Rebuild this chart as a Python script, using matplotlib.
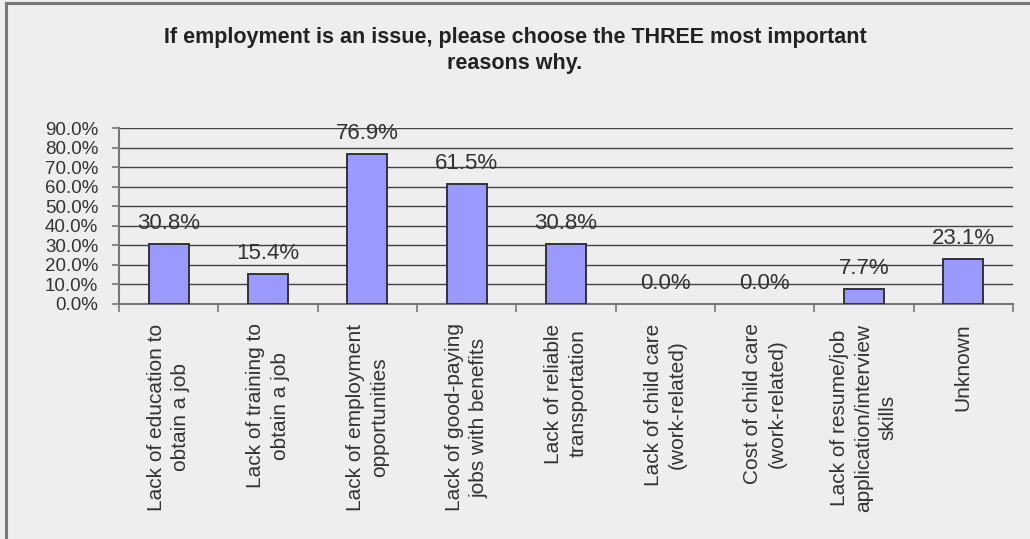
import matplotlib.pyplot as plt
from matplotlib.lines import Line2D

plt.rcParams['font.family'] = ['Liberation Sans', 'DejaVu Sans']

categories = [
    "Lack of education to\nobtain a job",
    "Lack of training to\nobtain a job",
    "Lack of employment\nopportunities",
    "Lack of good-paying\njobs with benefits",
    "Lack of reliable\ntransportation",
    "Lack of child care\n(work-related)",
    "Cost of child care\n(work-related)",
    "Lack of resume/job\napplication/interview\nskills",
    "Unknown",
]
percent = [30.8, 15.4, 76.9, 61.5, 30.8, 0.0, 0.0, 7.7, 23.1]
yticks = [0, 10, 20, 30, 40, 50, 60, 70, 80, 90]

bg = "#eeeeee"
fig = plt.figure(figsize=(10.30, 5.39), dpi=100, facecolor=bg)
ax = fig.add_axes([0.1155, 0.436, 0.868, 0.3265], facecolor=bg)

x = range(len(categories))
# no outline on empty bars, so nothing sits on the baseline
edges = [1.4 if v > 0 else 0 for v in percent]
ax.bar(x, percent, width=0.4, color="#9999ff", edgecolor="#333333", linewidth=edges, zorder=3)

for xi, v in zip(x, percent):
    ax.annotate(f"{v:.1f}%", (xi, v), xytext=(0, 7), textcoords="offset points",
                ha="center", va="bottom", fontsize=16, color="#333333", zorder=4)

ax.set_xlim(-0.5, len(categories) - 0.5)
ax.set_ylim(0, 90)
ax.set_yticks(yticks)
ax.set_yticklabels([f"{t:.1f}%" for t in yticks], fontsize=13.5, color="#333333")
ax.yaxis.grid(True, color="#444444", linewidth=1.0, zorder=0)
ax.tick_params(axis="y", length=5, width=1.2, color="#777777", pad=10)

# category labels centred, tick marks on the boundaries between them
ax.set_xticks(list(x))
ax.set_xticklabels(categories, rotation=90, fontsize=15, color="#333333",
                   ha="center", va="top", multialignment="center", linespacing=1.35)
ax.tick_params(axis="x", length=0, pad=14)
ax.set_xticks([i - 0.5 for i in range(len(categories) + 1)], minor=True)
ax.tick_params(axis="x", which="minor", length=6, width=1.2, color="#777777")

for s in ["top", "right"]:
    ax.spines[s].set_visible(False)
for s in ["left", "bottom"]:
    ax.spines[s].set_color("#777777")
    ax.spines[s].set_linewidth(1.5)

fig.text(0.5, 0.907, "If employment is an issue, please choose the THREE most important\nreasons why.",
         ha="center", va="center", fontsize=15.5, fontweight="bold", color="#222222",
         linespacing=1.3)

# outer frame along the left and top edges
fig.add_artist(Line2D([0.0058, 0.0058], [0, 0.995], transform=fig.transFigure,
                      color="#777777", linewidth=2.2))
fig.add_artist(Line2D([0.0058, 1], [0.995, 0.995], transform=fig.transFigure,
                      color="#777777", linewidth=2.2))

fig.savefig("out.png", dpi=100, facecolor=bg)
